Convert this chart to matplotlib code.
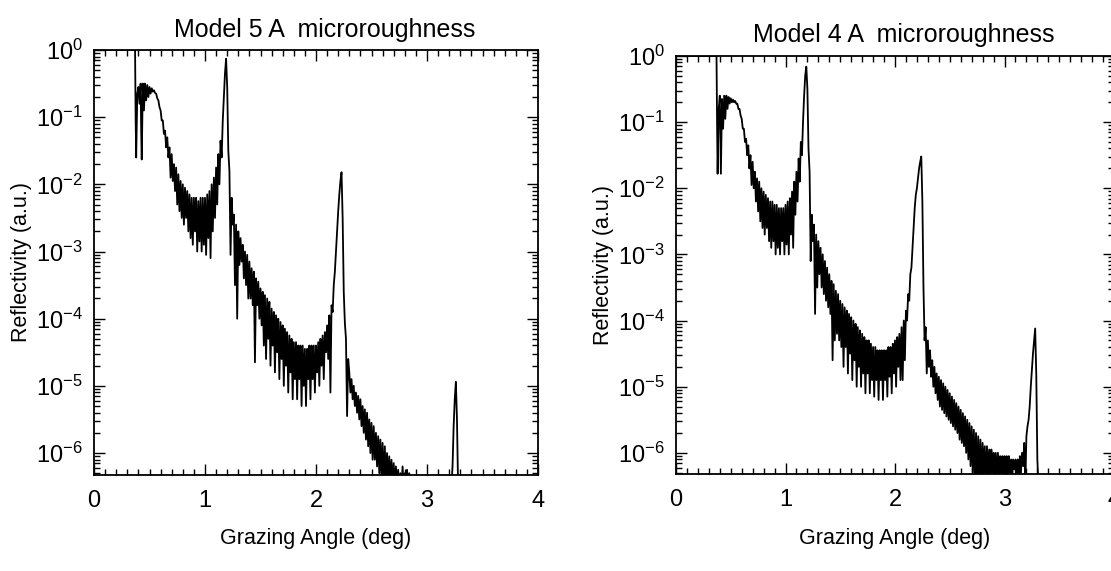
import numpy as np
import matplotlib
matplotlib.use("Agg")
from matplotlib import pyplot as plt
from matplotlib.ticker import FixedLocator, LogLocator, NullFormatter, MultipleLocator

plt.rcParams['font.family'] = ['Liberation Sans', 'DejaVu Sans']
plt.rcParams['mathtext.fontset'] = 'custom'
plt.rcParams['mathtext.rm'] = 'Liberation Sans'
plt.rcParams['mathtext.it'] = 'Liberation Sans'

####################################
# Model 5 A microroughness  (angle in deg, log10 reflectivity)
m5_angle = [
    0.00, 0.10, 0.20, 0.30, 0.37, 0.375, 0.38, 0.39, 0.40, 0.41,
    0.42, 0.425, 0.43, 0.44, 0.45, 0.46, 0.47, 0.48, 0.49, 0.50,
    0.51, 0.52, 0.53, 0.54, 0.55, 0.56, 0.57, 0.58, 0.59, 0.60,
    0.61, 0.62, 0.63, 0.64, 0.65, 0.66, 0.67, 0.68, 0.69, 0.70,
    0.71, 0.72, 0.73, 0.74, 0.75, 0.76, 0.77, 0.78, 0.79, 0.80,
    0.81, 0.82, 0.83, 0.84, 0.85, 0.86, 0.87, 0.88, 0.89, 0.90,
    0.91, 0.92, 0.93, 0.94, 0.95, 0.96, 0.97, 0.98, 0.99, 1.00,
    1.01, 1.02, 1.03, 1.04, 1.05, 1.06, 1.07, 1.08, 1.09, 1.10,
    1.11, 1.12, 1.13, 1.14, 1.15, 1.16, 1.17, 1.18, 1.19, 1.20,
    1.21, 1.22, 1.23, 1.24, 1.25, 1.26, 1.27, 1.28, 1.29, 1.30,
    1.31, 1.32, 1.33, 1.34, 1.35, 1.36, 1.37, 1.38, 1.39, 1.40,
    1.41, 1.42, 1.43, 1.44, 1.45, 1.46, 1.47, 1.48, 1.49, 1.50,
    1.51, 1.52, 1.53, 1.54, 1.55, 1.56, 1.57, 1.58, 1.59, 1.60,
    1.61, 1.62, 1.63, 1.64, 1.65, 1.66, 1.67, 1.68, 1.69, 1.70,
    1.71, 1.72, 1.73, 1.74, 1.75, 1.76, 1.77, 1.78, 1.79, 1.80,
    1.81, 1.82, 1.83, 1.84, 1.85, 1.86, 1.87, 1.88, 1.89, 1.90,
    1.91, 1.92, 1.93, 1.94, 1.95, 1.96, 1.97, 1.98, 1.99, 2.00,
    2.01, 2.02, 2.03, 2.04, 2.05, 2.06, 2.07, 2.08, 2.09, 2.10,
    2.11, 2.12, 2.13, 2.14, 2.15, 2.16, 2.17, 2.18, 2.19, 2.20,
    2.21, 2.22, 2.23, 2.24, 2.25, 2.26, 2.27, 2.28, 2.29, 2.30,
    2.31, 2.32, 2.33, 2.34, 2.35, 2.36, 2.37, 2.38, 2.39, 2.40,
    2.41, 2.42, 2.43, 2.44, 2.45, 2.46, 2.47, 2.48, 2.49, 2.50,
    2.51, 2.52, 2.53, 2.54, 2.55, 2.56, 2.57, 2.58, 2.59, 2.60,
    2.61, 2.62, 2.63, 2.64, 2.65, 2.66, 2.67, 2.68, 2.69, 2.70,
    2.71, 2.72, 2.73, 2.74, 2.75, 2.76, 2.77, 2.78, 2.79, 2.80,
    2.81, 2.82, 2.83, 2.84, 2.85, 2.86, 2.87, 2.88, 2.89, 2.90,
    3.20, 3.22, 3.23, 3.24, 3.25, 3.26, 3.27, 3.28, 3.50, 4.00,
]
m5_logr = [
    0, 0, 0, 0, 0, -1.0, -1.6, -0.65, -0.55, -0.8,
    -0.5, -1.2, -1.63, -0.5, -0.9, -0.5, -0.75, -0.52, -0.7, -0.55,
    -0.65, -0.57, -0.62, -0.6, -0.64, -0.65, -0.72, -0.75, -0.85, -0.9,
    -1.05, -1.05, -1.25, -1.2, -1.45, -1.3, -1.6, -1.45, -1.9, -1.55,
    -1.95, -1.7, -2.1, -1.75, -2.3, -1.85, -2.4, -1.95, -2.5, -2.0,
    -2.6, -2.05, -2.5, -2.1, -2.7, -2.15, -2.8, -2.2, -2.9, -2.2,
    -2.7, -2.2, -3.0, -2.25, -2.85, -2.2, -3.0, -2.2, -2.9, -2.2,
    -3.05, -2.15, -2.8, -2.1, -3.1, -2.0, -2.7, -1.9, -2.5, -1.75,
    -2.3, -1.55, -2.0, -1.35, -1.6, -1.05, -0.7, -0.35, -0.13, -0.55,
    -1.5, -1.8, -3.05, -2.2, -2.6, -2.45, -3.5, -2.6, -4.0, -2.7,
    -3.2, -2.8, -3.15, -2.9, -3.4, -3.0, -3.5, -3.05, -3.7, -3.15,
    -3.7, -3.25, -3.8, -3.3, -4.65, -3.4, -3.8, -3.45, -4.0, -3.55,
    -4.1, -3.6, -4.4, -3.65, -4.6, -3.7, -4.3, -3.75, -4.7, -3.85,
    -4.4, -3.9, -4.8, -3.95, -4.5, -4.0, -4.9, -4.05, -4.6, -4.1,
    -5.0, -4.15, -4.7, -4.2, -5.1, -4.25, -4.8, -4.3, -5.2, -4.35,
    -4.9, -4.35, -5.2, -4.4, -4.9, -4.4, -5.3, -4.4, -5.0, -4.45,
    -5.3, -4.45, -4.9, -4.4, -5.2, -4.4, -4.9, -4.4, -5.1, -4.4,
    -4.8, -4.35, -5.0, -4.3, -4.7, -4.25, -4.9, -4.2, -4.5, -4.1,
    -4.6, -3.95, -5.1, -3.8, -3.9, -3.5, -3.3, -3.0, -2.7, -2.4,
    -2.15, -1.95, -1.82, -2.5, -3.6, -4.06, -4.3, -5.45, -4.6, -4.8,
    -5.1, -4.9, -5.2, -5.0, -5.3, -5.1, -5.4, -5.15, -5.5, -5.2,
    -5.6, -5.3, -5.7, -5.35, -5.8, -5.4, -5.9, -5.5, -6.0, -5.55,
    -6.1, -5.6, -6.1, -5.7, -6.2, -5.75, -6.3, -5.8, -6.4, -5.85,
    -6.5, -5.9, -6.5, -6.0, -6.5, -6.05, -6.5, -6.1, -6.5, -6.15,
    -6.5, -6.2, -6.5, -6.25, -6.5, -6.3, -6.5, -6.2, -6.5, -6.3,
    -6.5, -6.25, -6.5, -6.3, -6.5, -6.4, -6.5, -6.5, -6.5, -6.5,
    -6.5, -6.5, -6.2, -5.6, -5.2, -4.94, -5.5, -6.5, -6.5, -6.5,
]

# Model 4 A microroughness
m4_angle = [
    0.00, 0.10, 0.20, 0.30, 0.37, 0.375, 0.38, 0.39, 0.40, 0.41,
    0.42, 0.43, 0.44, 0.45, 0.46, 0.47, 0.48, 0.49, 0.50, 0.51,
    0.52, 0.53, 0.54, 0.55, 0.56, 0.57, 0.58, 0.59, 0.60, 0.61,
    0.62, 0.63, 0.64, 0.65, 0.66, 0.67, 0.68, 0.69, 0.70, 0.71,
    0.72, 0.73, 0.74, 0.75, 0.76, 0.77, 0.78, 0.79, 0.80, 0.81,
    0.82, 0.83, 0.84, 0.85, 0.86, 0.87, 0.88, 0.89, 0.90, 0.91,
    0.92, 0.93, 0.94, 0.95, 0.96, 0.97, 0.98, 0.99, 1.00, 1.01,
    1.02, 1.03, 1.04, 1.05, 1.06, 1.07, 1.08, 1.09, 1.10, 1.11,
    1.12, 1.13, 1.14, 1.15, 1.16, 1.17, 1.18, 1.19, 1.20, 1.21,
    1.22, 1.23, 1.24, 1.25, 1.26, 1.27, 1.28, 1.29, 1.30, 1.31,
    1.32, 1.33, 1.34, 1.35, 1.36, 1.37, 1.38, 1.39, 1.40, 1.41,
    1.42, 1.43, 1.44, 1.45, 1.46, 1.47, 1.48, 1.49, 1.50, 1.51,
    1.52, 1.53, 1.54, 1.55, 1.56, 1.57, 1.58, 1.59, 1.60, 1.61,
    1.62, 1.63, 1.64, 1.65, 1.66, 1.67, 1.68, 1.69, 1.70, 1.71,
    1.72, 1.73, 1.74, 1.75, 1.76, 1.77, 1.78, 1.79, 1.80, 1.81,
    1.82, 1.83, 1.84, 1.85, 1.86, 1.87, 1.88, 1.89, 1.90, 1.91,
    1.92, 1.93, 1.94, 1.95, 1.96, 1.97, 1.98, 1.99, 2.00, 2.01,
    2.02, 2.03, 2.04, 2.05, 2.06, 2.07, 2.08, 2.09, 2.10, 2.11,
    2.12, 2.13, 2.14, 2.15, 2.16, 2.17, 2.18, 2.19, 2.20, 2.21,
    2.22, 2.23, 2.24, 2.25, 2.26, 2.27, 2.28, 2.29, 2.30, 2.31,
    2.32, 2.33, 2.34, 2.35, 2.36, 2.37, 2.38, 2.39, 2.40, 2.41,
    2.42, 2.43, 2.44, 2.45, 2.46, 2.47, 2.48, 2.49, 2.50, 2.51,
    2.52, 2.53, 2.54, 2.55, 2.56, 2.57, 2.58, 2.59, 2.60, 2.61,
    2.62, 2.63, 2.64, 2.65, 2.66, 2.67, 2.68, 2.69, 2.70, 2.71,
    2.72, 2.73, 2.74, 2.75, 2.76, 2.77, 2.78, 2.79, 2.80, 2.81,
    2.82, 2.83, 2.84, 2.85, 2.86, 2.87, 2.88, 2.89, 2.90, 2.91,
    2.92, 2.93, 2.94, 2.95, 2.96, 2.97, 2.98, 2.99, 3.00, 3.01,
    3.02, 3.03, 3.04, 3.05, 3.06, 3.07, 3.08, 3.09, 3.10, 3.11,
    3.12, 3.13, 3.14, 3.15, 3.16, 3.17, 3.18, 3.19, 3.20, 3.21,
    3.22, 3.23, 3.24, 3.25, 3.26, 3.27, 3.28, 3.29, 3.30, 3.31,
    3.50, 4.00,
]
m4_logr = [
    0, 0, 0, 0, 0, -1.0, -1.78, -0.8, -0.6, -1.78,
    -0.65, -1.1, -0.6, -0.95, -0.6, -0.8, -0.62, -0.72, -0.64, -0.7,
    -0.66, -0.7, -0.68, -0.72, -0.72, -0.8, -0.8, -0.9, -0.95, -1.1,
    -1.1, -1.3, -1.25, -1.5, -1.35, -1.7, -1.5, -1.95, -1.6, -2.0,
    -1.75, -2.2, -1.85, -2.35, -1.9, -2.5, -2.0, -2.6, -2.05, -2.7,
    -2.1, -2.6, -2.15, -2.8, -2.2, -2.9, -2.2, -2.8, -2.25, -3.0,
    -2.25, -2.9, -2.3, -3.0, -2.3, -2.8, -2.3, -3.0, -2.25, -2.85,
    -2.2, -3.0, -2.15, -2.7, -2.05, -2.9, -1.9, -2.4, -1.75, -2.2,
    -1.55, -1.9, -1.3, -1.5, -1.0, -0.6, -0.3, -0.16, -0.5, -1.4,
    -1.75, -3.1, -2.4, -2.8, -2.55, -3.9, -2.7, -3.5, -2.8, -3.3,
    -2.9, -3.5, -3.0, -3.6, -3.1, -3.7, -3.2, -3.8, -3.3, -3.9,
    -3.4, -4.6, -3.45, -4.3, -3.55, -4.2, -3.6, -4.3, -3.7, -4.4,
    -3.75, -4.7, -3.8, -4.4, -3.85, -4.8, -3.9, -4.5, -3.95, -4.9,
    -4.0, -4.6, -4.05, -5.0, -4.1, -4.7, -4.15, -5.0, -4.2, -4.8,
    -4.25, -5.1, -4.3, -4.8, -4.3, -5.1, -4.35, -4.9, -4.4, -5.15,
    -4.4, -4.9, -4.45, -5.2, -4.45, -4.9, -4.45, -5.2, -4.45, -4.9,
    -4.45, -5.15, -4.4, -4.85, -4.4, -5.1, -4.35, -4.8, -4.3, -5.0,
    -4.25, -4.7, -4.2, -4.9, -4.1, -4.9, -4.0, -4.6, -3.85, -4.0,
    -3.6, -3.7, -3.3, -3.2, -2.9, -2.6, -2.3, -2.1, -2.0, -1.85,
    -1.7, -1.6, -1.52, -2.2, -3.5, -4.3, -4.1, -4.8, -4.3, -4.7,
    -4.45, -4.85, -4.6, -5.0, -4.7, -5.1, -4.8, -5.2, -4.85, -5.3,
    -4.9, -5.35, -4.95, -5.4, -5.0, -5.45, -5.05, -5.5, -5.1, -5.55,
    -5.15, -5.6, -5.2, -5.65, -5.25, -5.7, -5.3, -5.8, -5.35, -5.85,
    -5.4, -5.9, -5.45, -6.0, -5.5, -6.1, -5.55, -6.2, -5.6, -6.3,
    -5.65, -6.4, -5.7, -6.5, -5.75, -6.5, -5.8, -6.5, -5.85, -6.3,
    -5.9, -6.5, -5.9, -6.4, -5.95, -6.5, -5.95, -6.3, -6.0, -6.5,
    -6.0, -6.4, -6.0, -6.5, -6.05, -6.3, -6.05, -6.5, -6.05, -6.3,
    -6.05, -6.5, -6.05, -6.3, -6.1, -6.4, -6.1, -6.25, -6.1, -6.3,
    -6.1, -6.5, -6.05, -6.3, -6.0, -6.2, -5.85, -6.5, -5.75, -5.6,
    -5.5, -5.3, -5.0, -4.75, -4.5, -4.3, -4.12, -4.8, -6.1, -6.5,
    -6.5, -6.5,
]

panels = [
    ("Model 5 A  microroughness", m5_angle, m5_logr),
    ("Model 4 A  microroughness", m4_angle, m4_logr),
]

decades = [0, -1, -2, -3, -4, -5, -6]
ylow = 10 ** -6.32

####################################
W, H = 1111, 571
fig = plt.figure(figsize=(W / 100, H / 100), dpi=100)
fig.patch.set_facecolor('white')

# axes boxes in pixels (left, top, right, bottom); the right panel runs off the page
boxes = [
    (94, 50, 538, 474.5),
    (676, 56, 1114, 474),
]
title_pads = [9, 10]

for (title, ang, logr), (x0, y0, x1, y1), tpad in zip(panels, boxes, title_pads):
    ax = fig.add_axes([x0 / W, 1 - y1 / H, (x1 - x0) / W, (y1 - y0) / H])
    ax.plot(ang, 10 ** np.array(logr), color='black', lw=1.3)
    ax.set_yscale('log')
    ax.set_xlim(0, 4)
    ax.set_ylim(ylow, 1.0)

    ax.xaxis.set_major_locator(MultipleLocator(1))
    ax.xaxis.set_minor_locator(MultipleLocator(0.1))
    ax.yaxis.set_major_locator(FixedLocator([10.0 ** d for d in decades]))
    ax.set_yticklabels([r'$10^{%d}$' % d for d in decades])
    ax.yaxis.set_minor_locator(LogLocator(base=10, subs=np.arange(2, 10)))
    ax.yaxis.set_minor_formatter(NullFormatter())

    ax.tick_params(which='both', direction='in', top=True, right=True,
                   width=1.0, colors='black')
    ax.tick_params(which='major', length=8)
    ax.tick_params(which='minor', length=4)
    ax.tick_params(axis='x', which='major', labelsize=17, pad=11)
    ax.tick_params(axis='y', which='major', labelsize=17, pad=8)
    for sp in ax.spines.values():
        sp.set_linewidth(1.3)

    ax.set_title(title, fontsize=18, x=0.52, pad=tpad)
    ax.set_xlabel('Grazing Angle (deg)', fontsize=15.5, labelpad=12)
    ax.set_ylabel('Reflectivity (a.u.)', fontsize=15.5, labelpad=3)

fig.savefig('out.png', dpi=100, facecolor='white')
